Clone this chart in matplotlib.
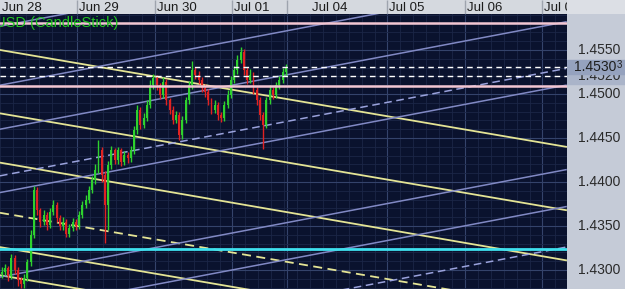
import matplotlib.pyplot as plt
from matplotlib.patches import Rectangle

plt.rcParams["font.family"] = ["Liberation Sans", "DejaVu Sans"]

# hourly candles, Jun 28 00:00 -> Jul 01 17:00 (x = hours since Jun 28 00:00)
opens = [1.4296, 1.4298, 1.4302, 1.4293, 1.4314, 1.4300, 1.4289, 1.4284, 1.4291, 1.4309,
         1.4340, 1.4391, 1.4368, 1.4355, 1.4363, 1.4351, 1.4366, 1.4374, 1.4359, 1.4350,
         1.4355, 1.4341, 1.4348, 1.4355, 1.4350, 1.4363, 1.4374, 1.4380, 1.4391, 1.4402,
         1.4414, 1.4436, 1.4408, 1.4374, 1.4419, 1.4436, 1.4425, 1.4436, 1.4423, 1.4431,
         1.4427, 1.4436, 1.4459, 1.4482, 1.4465, 1.4473, 1.4488, 1.4510, 1.4518, 1.4510,
         1.4499, 1.4514, 1.4493, 1.4482, 1.4471, 1.4476, 1.4453, 1.4471, 1.4493, 1.4510,
         1.4527, 1.4522, 1.4516, 1.4507, 1.4502, 1.4493, 1.4482, 1.4488, 1.4476, 1.4473,
         1.4488, 1.4499, 1.4516, 1.4527, 1.4539, 1.4548, 1.4527, 1.4516, 1.4522, 1.4505,
         1.4493, 1.4476, 1.4465, 1.4493, 1.4505, 1.4499, 1.4510, 1.4516, 1.4525]
closes = [1.4298, 1.4302, 1.4293, 1.4314, 1.4300, 1.4289, 1.4284, 1.4291, 1.4309, 1.4340,
          1.4391, 1.4368, 1.4355, 1.4363, 1.4351, 1.4366, 1.4374, 1.4359, 1.4350, 1.4355,
          1.4341, 1.4348, 1.4355, 1.4350, 1.4363, 1.4374, 1.4380, 1.4391, 1.4402, 1.4414,
          1.4436, 1.4408, 1.4374, 1.4419, 1.4436, 1.4425, 1.4436, 1.4423, 1.4431, 1.4427,
          1.4436, 1.4459, 1.4482, 1.4465, 1.4473, 1.4488, 1.4510, 1.4518, 1.4510, 1.4499,
          1.4514, 1.4493, 1.4482, 1.4471, 1.4476, 1.4453, 1.4471, 1.4493, 1.4510, 1.4527,
          1.4522, 1.4516, 1.4507, 1.4502, 1.4493, 1.4482, 1.4488, 1.4476, 1.4473, 1.4488,
          1.4499, 1.4516, 1.4527, 1.4539, 1.4548, 1.4527, 1.4516, 1.4522, 1.4505, 1.4493,
          1.4476, 1.4465, 1.4493, 1.4505, 1.4499, 1.4510, 1.4516, 1.4525, 1.4530]
highs = [1.4303, 1.4307, 1.4305, 1.4318, 1.4317, 1.4303, 1.4292, 1.4295, 1.4313, 1.4345,
         1.4395, 1.4394, 1.4371, 1.4368, 1.4366, 1.4370, 1.4379, 1.4377, 1.4362, 1.4360,
         1.4358, 1.4352, 1.4359, 1.4358, 1.4367, 1.4378, 1.4385, 1.4396, 1.4407, 1.4420,
         1.4448, 1.4440, 1.4412, 1.4424, 1.4441, 1.4439, 1.4440, 1.4439, 1.4435, 1.4434,
         1.4441, 1.4464, 1.4487, 1.4485, 1.4478, 1.4493, 1.4516, 1.4523, 1.4522, 1.4513,
         1.4519, 1.4517, 1.4496, 1.4486, 1.4481, 1.4479, 1.4475, 1.4497, 1.4515, 1.4538,
         1.4531, 1.4526, 1.4519, 1.4511, 1.4506, 1.4496, 1.4493, 1.4491, 1.4480, 1.4492,
         1.4504, 1.4521, 1.4532, 1.4544, 1.4553, 1.4551, 1.4531, 1.4528, 1.4525, 1.4508,
         1.4497, 1.4480, 1.4497, 1.4510, 1.4508, 1.4514, 1.4521, 1.4530, 1.4534]
lows = [1.4291, 1.4294, 1.4288, 1.4290, 1.4296, 1.4282, 1.4279, 1.4280, 1.4287, 1.4305,
        1.4336, 1.4362, 1.4349, 1.4351, 1.4346, 1.4348, 1.4362, 1.4355, 1.4345, 1.4346,
        1.4337, 1.4338, 1.4344, 1.4346, 1.4347, 1.4359, 1.4370, 1.4376, 1.4387, 1.4398,
        1.4410, 1.4400, 1.4331, 1.4346, 1.4415, 1.4420, 1.4421, 1.4418, 1.4419, 1.4422,
        1.4423, 1.4432, 1.4455, 1.4460, 1.4461, 1.4469, 1.4484, 1.4506, 1.4505, 1.4494,
        1.4495, 1.4488, 1.4477, 1.4466, 1.4467, 1.4448, 1.4449, 1.4467, 1.4489, 1.4506,
        1.4517, 1.4511, 1.4502, 1.4497, 1.4488, 1.4477, 1.4478, 1.4471, 1.4468, 1.4469,
        1.4484, 1.4495, 1.4512, 1.4523, 1.4535, 1.4522, 1.4511, 1.4512, 1.4500, 1.4488,
        1.4471, 1.4437, 1.4461, 1.4489, 1.4494, 1.4495, 1.4506, 1.4512, 1.4521]

day_labels = ["Jun 28", "Jun 29", "Jun 30", "Jul 01", "Jul 04", "Jul 05", "Jul 06", "Jul 07"]
day_starts = [0, 24, 48, 72, 96, 120, 144, 168]
day_breaks = [24, 48, 72, 89, 120, 144, 168]

price_ticks = [1.4300, 1.4350, 1.4400, 1.4450, 1.4500, 1.4550]

# trend lines: (price at left edge, price at right edge)
line_x = [0, 175.3]
yellow_solid = [(1.4550, 1.4440), (1.4478, 1.4368), (1.4422, 1.4311),
                (1.4326, 1.4216), (1.4294, 1.4184)]
yellow_dashed = [(1.4365, 1.4255)]
blue_solid = [(1.4577, 1.4699), (1.4510, 1.4632), (1.4460, 1.4582),
              (1.4388, 1.4510), (1.4292, 1.4414), (1.4250, 1.4372)]
blue_dashed = [(1.4407, 1.4529), (1.4203, 1.4326)]

pink_levels = [1.4581, 1.4509]
white_levels = [1.45303, 1.4520]
cyan_level = 1.4324
last_price = 1.45303

W, H = 625, 289
x_max = 175.6
y_min, y_max = 1.42784, 1.45909

fig = plt.figure(figsize=(W / 100, H / 100), dpi=100)
fig.patch.set_facecolor("#dcdfe5")

ax = fig.add_axes([0, 0, 567 / W, 275 / H])
hdr = fig.add_axes([0, 275 / H, 567 / W, 14 / H])
side = fig.add_axes([567 / W, 0, 58 / W, 275 / H])

# main plot
ax.set_facecolor("#0a122e")
ax.set_xlim(0, x_max)
ax.set_ylim(y_min, y_max)
ax.set_xticks(day_breaks)
ax.set_xticks(range(0, 176, 4), minor=True)
ax.set_yticks(price_ticks)
ax.set_yticks([1.428 + 0.001 * k for k in range(32)], minor=True)
ax.grid(which="major", color="#34436b", lw=0.8)
ax.grid(which="minor", color="#1b2647", lw=0.6)
ax.set_axisbelow(True)
ax.tick_params(which="both", length=0, labelbottom=False, labelleft=False)
for s in ax.spines.values():
    s.set_visible(False)

for a, b in yellow_solid:
    ax.plot(line_x, [a, b], color="#e4e495", lw=1.3, zorder=2)
for a, b in yellow_dashed:
    ax.plot(line_x, [a, b], color="#e4e495", lw=1.3, ls=(0, (5, 3)), zorder=2)
for a, b in blue_solid:
    ax.plot(line_x, [a, b], color="#8189c4", lw=1.1, zorder=2)
for a, b in blue_dashed:
    ax.plot(line_x, [a, b], color="#9aa2dc", lw=1.1, ls=(0, (5, 3)), zorder=2)

x = [i + 0.5 for i in range(len(closes))]
cols = ["#2ed22e" if c >= o else "#e02222" for o, c in zip(opens, closes)]
ax.vlines(x, lows, highs, colors=cols, lw=1, zorder=3)
ax.bar(x, [abs(c - o) for o, c in zip(opens, closes)],
       bottom=[min(o, c) for o, c in zip(opens, closes)],
       width=0.6, color=cols, zorder=3)

for p in pink_levels:
    ax.axhline(p, color="#f3c6d2", lw=1.8, zorder=4)
for p in white_levels:
    ax.axhline(p, color="white", lw=1, ls=(0, (4, 3)), zorder=4)
ax.axhline(cyan_level, color="#3ee0ee", lw=2, zorder=4)

ax.text(-1.5, 1.4581, "USD (CandleStick)", color="#22c422", fontsize=10.5,
        va="center", ha="left", zorder=5)

# date header
hdr.set_facecolor("#d5d9df")
hdr.set_xlim(0, x_max)
hdr.set_ylim(0, 1)
hdr.vlines(day_breaks, 0, 1, color="#9ea4ae", lw=1)
for d, lab in zip(day_starts, day_labels):
    hdr.text(d + 0.6, 0.45, lab, fontsize=9.5, color="#1c1c1c",
             va="center", ha="left", clip_on=True)
hdr.set_xticks([])
hdr.set_yticks([])
for s in hdr.spines.values():
    s.set_visible(False)

# price scale
side.set_facecolor("#c5cbd7")
side.set_xlim(0, 1)
side.set_ylim(y_min, y_max)
side.set_xticks([])
side.set_yticks([])
for s in side.spines.values():
    s.set_visible(False)
for p in price_ticks:
    side.text(0.915, p, f"{p:.4f}", fontsize=10, color="#2a2a2a", ha="right", va="center")
side.add_patch(Rectangle((0, 1.45114), 1, 0.00113, color="#aab4c9", zorder=2))
side.text(0.915, 1.4520, "1.4520", fontsize=10, color="#2a2a2a", ha="right",
          va="center", zorder=3)
side.add_patch(Rectangle((0, 1.45227), 1, 0.00159, color="#95a2be", zorder=4))
side.text(0.845, last_price, f"{last_price:.5f}"[:-1], fontsize=10, color="#1e1e1e",
          ha="right", va="center", zorder=5)
side.text(0.86, last_price + 0.0003, f"{last_price:.5f}"[-1], fontsize=7,
          color="#1e1e1e", ha="left", va="center", zorder=5)

fig.savefig("out.png", dpi=100, facecolor=fig.get_facecolor())
